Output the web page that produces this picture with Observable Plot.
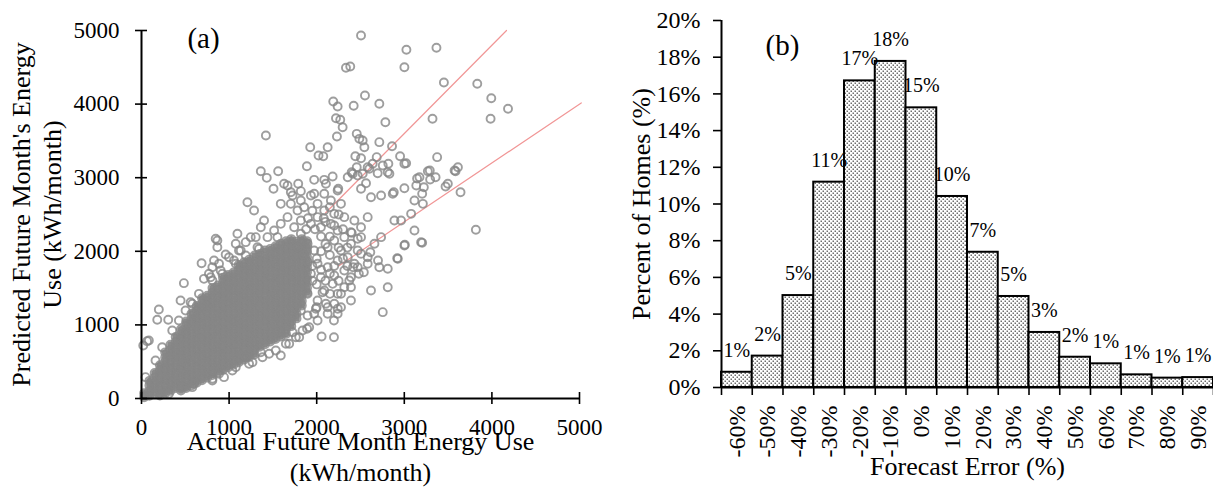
<!DOCTYPE html>
<html><head><meta charset="utf-8">
<script src="https://cdn.jsdelivr.net/npm/d3@7"></script>
<script src="https://cdn.jsdelivr.net/npm/@observablehq/plot@0.6"></script>
<style>
html,body{margin:0;padding:0;background:#fff;}
#wrap{position:relative;width:1213px;height:487px;overflow:hidden;background:#fff;}
#a{position:absolute;left:0;top:0;}
#b{position:absolute;left:600px;top:0;}
</style></head><body><div id="wrap"><div id="a"></div><div id="b"></div></div>
<script>
// ---------- Panel (a): actual vs predicted monthly energy use (kWh/month) ----------
const energyTicks = [0, 1000, 2000, 3000, 4000, 5000];

// dense core of the cloud: one column of predicted values per actual value
const coreActual = [30, 90, 150, 210, 270, 330, 390, 450, 510, 570, 630, 690, 750, 810, 870, 930,
  990, 1050, 1110, 1170, 1230, 1290, 1350, 1410, 1470, 1530, 1590, 1650, 1710, 1770, 1830, 1890];
const corePredicted = [
  [18, 72],
  [38, 101, 178, 240],
  [66, 143, 207, 284, 347],
  [40, 108, 171, 249, 312, 388, 452],
  [72, 137, 214, 276, 353, 417, 494, 556, 627],
  [103, 179, 241, 318, 382, 459, 521, 598, 662, 731],
  [143, 207, 284, 346, 423, 487, 564, 626, 703, 767, 836],
  [108, 172, 249, 311, 388, 452, 529, 591, 668, 732, 809, 871, 940],
  [143, 206, 283, 347, 424, 486, 563, 627, 704, 766, 843, 907, 984, 1046],
  [178, 241, 318, 382, 459, 521, 598, 662, 739, 801, 878, 942, 1019, 1081, 1152],
  [213, 276, 353, 417, 494, 556, 633, 697, 774, 836, 913, 977, 1054, 1116, 1193, 1257],
  [248, 311, 388, 452, 529, 591, 668, 732, 809, 871, 948, 1012, 1089, 1151, 1228, 1292, 1362],
  [283, 346, 423, 487, 564, 626, 703, 767, 844, 906, 983, 1047, 1124, 1186, 1263, 1327, 1397],
  [318, 381, 458, 522, 599, 661, 738, 802, 879, 941, 1018, 1082, 1159, 1221, 1298, 1362, 1439, 1502],
  [353, 416, 493, 557, 634, 696, 773, 837, 914, 976, 1053, 1117, 1194, 1256, 1333, 1397, 1474, 1537],
  [388, 451, 528, 592, 669, 731, 808, 872, 949, 1011, 1088, 1152, 1229, 1291, 1368, 1432, 1509, 1571, 1641],
  [423, 486, 563, 627, 704, 766, 843, 907, 984, 1046, 1123, 1187, 1264, 1326, 1403, 1467, 1544, 1606, 1677],
  [458, 521, 598, 662, 739, 801, 878, 942, 1019, 1081, 1158, 1222, 1299, 1361, 1438, 1502, 1579, 1641, 1712],
  [493, 556, 633, 697, 774, 836, 913, 977, 1054, 1116, 1193, 1257, 1334, 1396, 1473, 1537, 1614, 1676, 1753, 1816],
  [528, 591, 668, 732, 809, 871, 948, 1012, 1089, 1151, 1228, 1292, 1369, 1431, 1508, 1572, 1649, 1711, 1788, 1852],
  [563, 626, 703, 767, 844, 906, 983, 1047, 1124, 1186, 1263, 1327, 1404, 1466, 1543, 1607, 1684, 1746, 1823, 1887],
  [598, 661, 738, 802, 879, 941, 1018, 1082, 1159, 1221, 1298, 1362, 1439, 1501, 1578, 1642, 1719, 1781, 1858, 1942],
  [703, 766, 843, 907, 984, 1046, 1123, 1187, 1264, 1326, 1403, 1467, 1544, 1606, 1683, 1747, 1824, 1886, 1963],
  [738, 801, 878, 942, 1019, 1081, 1158, 1222, 1299, 1361, 1438, 1502, 1579, 1641, 1718, 1782, 1859, 1921, 2012],
  [773, 836, 913, 977, 1054, 1116, 1193, 1257, 1334, 1396, 1473, 1537, 1614, 1676, 1753, 1817, 1894, 1956, 2033],
  [808, 871, 948, 1012, 1089, 1151, 1228, 1292, 1369, 1431, 1508, 1572, 1649, 1711, 1788, 1852, 1929, 1991, 2068],
  [843, 906, 983, 1047, 1124, 1186, 1263, 1327, 1404, 1466, 1543, 1607, 1684, 1746, 1823, 1887, 1964, 2026, 2103],
  [878, 941, 1018, 1082, 1159, 1221, 1298, 1362, 1439, 1501, 1578, 1642, 1719, 1781, 1858, 1922, 1999, 2061, 2138],
  [983, 1046, 1123, 1187, 1264, 1326, 1403, 1467, 1544, 1606, 1683, 1747, 1824, 1886, 1963, 2027, 2104, 2166],
  [1088, 1151, 1228, 1292, 1369, 1431, 1508, 1572, 1649, 1711, 1788, 1852, 1929, 1991, 2068, 2132],
  [1263, 1326, 1403, 1467, 1544, 1606, 1683, 1747, 1824, 1886, 1963, 2027, 2104, 2166],
  [1438, 1501, 1578, 1642, 1719, 1781, 1858, 1922, 1999, 2061, 2138]
];

// individually visible homes [actual, predicted]
const outlierHomes = [
  [2506,4932],[3024,4738],[3367,4765],[3001,4501],[2334,4493],[2383,4511],[3452,4293],[3833,4276],[3993,4080],[4184,3936],
  [3985,3800],[3322,3800],[2551,4117],[2189,4035],[2239,3967],[2422,3977],[2715,4004],[2784,3754],[2220,3808],[2269,3787],
  [2296,3686],[2231,3560],[2457,3596],[2487,3528],[2525,3505],[2544,3414],[2715,3483],[2860,3428],[1926,3414],[2125,3414],
  [2075,3292],[2441,3292],[2506,3265],[2685,3279],[2952,3292],[3021,3197],[3375,3279],[1888,3156],[2457,3143],[2399,3075],
  [2354,3007],[2468,3030],[2525,3053],[2601,3121],[2639,3189],[2818,3189],[2830,3053],[2696,3061],[3269,3088],[3295,2976],
  [3146,2990],[3223,2871],[3612,3143],[3585,3088],[3471,2880],[3642,2803],[3001,2857],[2880,2803],[1667,2894],[1789,2917],
  [1971,2971],[2086,2971],[2182,3016],[2563,2925],[2506,2849],[1971,2781],[2086,2781],[2239,2826],[2735,2758],
  [1362,3088],[1430,2998],[1560,3088],[1209,2667],[1507,2849],[1819,2817],[1724,2758],[1590,2645],[1705,2645],[1781,2554],
  [1857,2599],[2105,2917],[2246,2849],[2411,3053],[2582,3143],[2754,3166],[2811,3075],[3001,3189],[3173,3007],[3497,2917],
  [3574,3098],[2620,2735],[2868,2781],[3116,2690],[3212,2645],[3078,2509],[2887,2418],[2963,2418],[3116,2283],[3001,2079],
  [3192,2124],[2926,1898],[2811,1512],[2754,1173],[2620,1467],[2715,1784],[2582,1920],[2659,2102],[2735,2192],[2277,2645],
  [2315,2464],[2430,2418],[2506,2327],[2391,2260],[2582,2464],[2468,2170],[2506,1966],[2582,1830],[2468,1784],[2391,1648],
  [2315,1512],[2239,1422],[2201,1287],[2125,1151],[2391,1332],[2277,1240],[2811,1762],
  [3817,2292],[3006,2088],[3204,2115],[2919,1906],[2612,1988],[2197,833],[2056,842],[2240,1219],[2152,1422],[1999,1240],
  [2197,1060],[1890,947],[2372,1603],[2481,1694],[2415,1784],[3204,2781],[3137,2894],[3357,3007],[3291,3098],[1420,3573],
  [2021,3302],[2538,1716],[2700,1875],
  [847,2170],[866,2056],[1076,2102],[961,1957],[686,1838],[484,1567],[446,1332],[198,1209],[180,1069],[305,1069],
  [84,788],[20,720],[561,1308],[503,1196],[598,1151],[713,1626],[770,1694],[809,1784],[885,1830],[999,1920],
  [1113,2011],[1190,2124],[1304,2192],[1590,584],[1457,607],[1362,629],[1914,969],[2010,1060],[1896,1128],[1991,1219],
  [2105,1287],[2067,1444],[2182,1558],[885,336],[942,290],[809,268],[598,200],[466,154],[1190,561],[1267,493],
  [1076,425],[1686,743],[1800,833],[1724,901],
  [1628,2917],[1705,2803],[1819,2690],[1934,2758],[2010,2645],[2086,2554],[2162,2690],[2200,2509],[2010,2464],[1934,2373],
  [2048,2327],[2162,2373],[2239,2283],[2315,2192],[2200,2147],[2125,2056],[2277,2011],[2354,1920],[2239,1875],[2125,1784],
  [2010,1830],[1934,1694],[2048,1648],[2200,1671],[2315,1739],[2430,1830],[2468,2011],[2391,2102],[2506,2192],[1819,2418],
  [1743,2327],[1667,2464],[1590,2373],[1514,2283],[1438,2192],[1362,2327],[1819,2238],[1896,2102],[1781,2056],[1971,2011],
  [1896,1422],[2010,1332],[2125,1240],[2239,1151],[1971,1151],[1819,1196],[2277,1422],[2391,1512],[2086,1467],[1324,2056],
  [1247,2192],[1133,2011],[1056,1875],[904,1739],[789,1648],[866,2147],[828,1875],[1095,2238],[1399,2418],[1285,2554],
  [1552,2192],
  [1950,1800],[2000,1900],[2050,2000],[2100,2100],[2150,2200],[2050,2200],[1980,2300],[2100,2400],[2200,2350],[2150,1950],
  [2250,2050],[2300,2300],[2250,2500],[2150,2600],[2080,2450],[1950,2550],[1900,2450],[1880,2300],[1850,1950],[1900,1850],
  [2000,1550],[2100,1600],[2200,1800],[2300,1900],[2350,2050],[2400,2250],[2050,1750],[1950,1600],[2150,1700],[2250,1600],
  [2350,1800],
  [313,64],[580,154],[809,245],[1037,380],[1228,471],[1381,561],[1533,652],[1648,743],[1762,833],[1838,924],
  [46,290],[160,516],[236,697],[351,924],[427,1060],[580,1287],[656,1422],[809,1603],[923,1694],[1076,1830],
  [1190,1943],[1342,2034],[64,779]
];

// visible parts of the +20% / -20% reference lines
const upperLineActual = [2100, 4167];
const upperLinePredicted = [2520, 5000];
const lowerLineActual = [2250, 5020];
const lowerLinePredicted = [1800, 4016];

const yTitleA = "Predicted Future Month's Energy\nUse (kWh/month)";
const xTitleA = "Actual Future Month Energy Use\n(kWh/month)";

// ---------- Panel (b): forecast error histogram ----------
const errorBins = [-60, -50, -40, -30, -20, -10, 0, 10, 20, 30, 40, 50, 60, 70, 80, 90];
const percentHomes = [0.83, 1.71, 5.01, 11.19, 16.71, 17.77, 15.24, 10.41, 7.37, 4.96, 3.0, 1.65, 1.29, 0.69, 0.51, 0.54];
const percentLabels = ["1%", "2%", "5%", "11%", "17%", "18%", "15%", "10%", "7%", "5%", "3%", "2%", "1%", "1%", "1%", "1%"];
const percentTicks = [0, 2, 4, 6, 8, 10, 12, 14, 16, 18, 20];
const binWidth = 10;

// ---------- build tables ----------
const corePoints = coreActual.flatMap((x, i) => corePredicted[i].map(y => ({actual: x, predicted: y})));
const scatterPoints = [
  ...corePoints,
  ...outlierHomes.map(([x, y]) => ({actual: x, predicted: y}))
];
const refLines = [
  ...upperLineActual.map((x, i) => ({actual: x, predicted: upperLinePredicted[i], band: "upper"})),
  ...lowerLineActual.map((x, i) => ({actual: x, predicted: lowerLinePredicted[i], band: "lower"}))
];
const serif = "'Liberation Serif', 'Times New Roman', serif";

const plotA = Plot.plot({
  width: 600, height: 487,
  marginLeft: 141, marginRight: 21, marginTop: 30, marginBottom: 89,
  style: {fontFamily: serif, fontSize: "23px", color: "#000", background: "transparent", overflow: "visible"},
  x: {domain: [0, 5000], label: null},
  y: {domain: [0, 5000], label: null},
  marks: [
    Plot.line(refLines, {x: "actual", y: "predicted", z: "band", stroke: "#f19696", strokeWidth: 1.2}),
    // overplotted core: the ring interiors are hidden by thousands of overlapping homes
    Plot.dot(corePoints, {x: "actual", y: "predicted", r: 3.2, fill: "#8a8a8a", stroke: "none"}),
    Plot.dot(scatterPoints, {x: "actual", y: "predicted", r: 4.0, fill: "none", stroke: "#868686", strokeOpacity: 0.8, strokeWidth: 1.9}),
    Plot.ruleX([0], {stroke: "#000", strokeWidth: 2}),
    Plot.ruleY([0], {stroke: "#000", strokeWidth: 2}),
    Plot.axisY({ticks: energyTicks, tickSize: 6, tickPadding: 16, tickFormat: d => String(d), strokeWidth: 1.6, fontSize: 23}),
    Plot.axisY({ticks: energyTicks, tickSize: 6, dx: 6, tickFormat: () => "", strokeWidth: 1.6}),
    Plot.axisX({ticks: energyTicks, tickSize: 6, tickPadding: 14, tickFormat: d => String(d), strokeWidth: 1.6, fontSize: 23}),
    Plot.axisX({ticks: energyTicks, tickSize: 6, dy: -6, tickFormat: () => "", strokeWidth: 1.6}),
    Plot.text(["(a)"], {text: d => d, frameAnchor: "top-left", dx: 62, dy: 8, fontSize: 29, textAnchor: "middle", lineAnchor: "middle"}),
    Plot.text([yTitleA], {text: d => d, frameAnchor: "left", rotate: -90, dx: -106, fontSize: 26, lineHeight: 1.2, lineAnchor: "middle", textAnchor: "middle"}),
    Plot.text([xTitleA], {text: d => d, frameAnchor: "bottom", dy: 57, fontSize: 26, lineHeight: 1.2, lineAnchor: "middle", textAnchor: "middle"})
  ]
});
document.getElementById("a").appendChild(plotA);

const bars = errorBins.map((c, i) => ({lo: c - binWidth / 2, hi: c + binWidth / 2, center: c, pct: percentHomes[i], label: percentLabels[i]}));
const binEdges = [...bars.map(d => d.lo), bars[bars.length - 1].hi];

const plotB = Plot.plot({
  width: 613, height: 487,
  marginLeft: 121, marginRight: 0, marginTop: 20, marginBottom: 100,
  style: {fontFamily: serif, fontSize: "24px", color: "#000", background: "transparent", overflow: "visible"},
  x: {domain: [binEdges[0], binEdges[binEdges.length - 1]], label: null},
  y: {domain: [0, 20], label: null},
  marks: [
    Plot.rectY(bars, {x1: "lo", x2: "hi", y: "pct", fill: "url(#dotfill)", stroke: "#000", strokeWidth: 2}),
    Plot.ruleX([binEdges[0]], {stroke: "#000", strokeWidth: 2}),
    Plot.ruleY([0], {stroke: "#000", strokeWidth: 2}),
    Plot.axisY({ticks: percentTicks, tickSize: 8, tickPadding: 13, tickFormat: d => d + "%", strokeWidth: 1.6, fontSize: 24}),
    Plot.axisX({ticks: binEdges, tickSize: 8, tickFormat: () => "", strokeWidth: 1.6}),
    Plot.axisX({ticks: errorBins, tickSize: 0, tickPadding: 18, tickRotate: -90, tickFormat: d => d + "%", fontSize: 24}),
    Plot.text(bars, {x: "center", y: "pct", text: "label", dy: -22, fontSize: 20, lineAnchor: "middle"}),
    Plot.text(["(b)"], {text: d => d, frameAnchor: "top-left", dx: 61, dy: 25, fontSize: 29, textAnchor: "middle", lineAnchor: "middle"}),
    Plot.text(["Percent of Homes (%)"], {text: d => d, frameAnchor: "left", rotate: -90, dx: -80, fontSize: 26, lineAnchor: "middle", textAnchor: "middle"}),
    Plot.text(["Forecast Error (%)"], {text: d => d, frameAnchor: "bottom", dy: 79, fontSize: 26, lineAnchor: "middle", textAnchor: "middle"})
  ]
});
const ns = "http://www.w3.org/2000/svg";
const defs = document.createElementNS(ns, "defs");
defs.innerHTML = '<pattern id="dotfill" width="4" height="4" patternUnits="userSpaceOnUse">' +
  '<rect width="4" height="4" fill="#fff"/>' +
  '<rect x="0.5" y="0.5" width="1.5" height="1.5" fill="#6e6e6e"/>' +
  '<rect x="2.5" y="2.5" width="1.5" height="1.5" fill="#6e6e6e"/></pattern>';
plotB.insertBefore(defs, plotB.firstChild);
document.getElementById("b").appendChild(plotB);
</script></body></html>
